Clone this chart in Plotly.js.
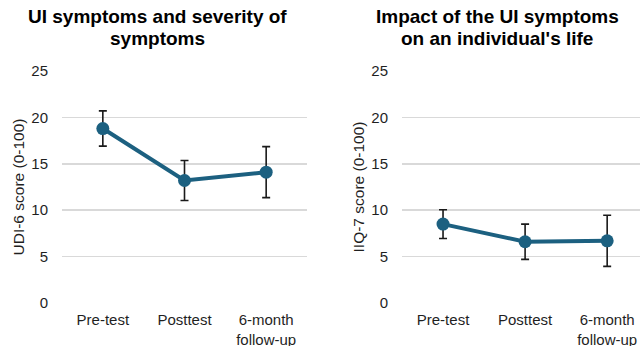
<!DOCTYPE html>
<html>
<head>
<meta charset="utf-8">
<script src="https://cdn.plot.ly/plotly-3.0.1.min.js"></script>
<style>html,body{margin:0;padding:0;background:#fff;}#chart{width:640px;height:346px;}</style>
</head>
<body>
<div id="chart"></div>
<script>
const categories = ["Pre-test", "Posttest", "6-month<br>follow-up"];
const udiMeans = [18.8, 13.2, 14.1];
const udiErrors = [1.9, 2.15, 2.75];
const iiqMeans = [8.5, 6.6, 6.7];
const iiqErrors = [1.55, 1.9, 2.75];
const yTickValues = [0, 5, 10, 15, 20, 25];
const titleLeft = ["UI symptoms and severity of", "symptoms"];
const titleRight = ["Impact of the UI symptoms", "on an individual's life"];

const lineColor = "#1c6080";
const font = "Liberation Sans, Arial, sans-serif";

function trace(y, err, xa, ya) {
  return {
    type: "scatter", mode: "lines+markers",
    x: categories, y: y, xaxis: xa, yaxis: ya,
    line: {color: lineColor, width: 4},
    marker: {color: lineColor, size: 13},
    error_y: {type: "data", array: err, visible: true, color: "#1a1a1a", thickness: 1.6, width: 4},
    hoverinfo: "x+y", showlegend: false
  };
}

const data = [
  trace(udiMeans, udiErrors, "x", "y"),
  trace(iiqMeans, iiqErrors, "x2", "y2")
];

function yaxis(anchor, titleText) {
  return {
    anchor: anchor, domain: [0, 1], range: [0, 25],
    tickvals: yTickValues, ticks: "", ticklabelstandoff: 13,
    showgrid: true, gridcolor: "#d9d9d9", gridwidth: 1.5,
    zeroline: false, showline: false,
    tickfont: {family: font, size: 15, color: "#1f1f1f"},
    title: {text: titleText, font: {family: font, size: 15.5, color: "#1f1f1f"}, standoff: 2}
  };
}
function xaxis(anchor, domain, range) {
  return {
    anchor: anchor, domain: domain, range: range, type: "category",
    ticks: "", showgrid: false, zeroline: false, showline: false,
    ticklabelstandoff: 6,
    tickfont: {family: font, size: 15, color: "#1f1f1f"}
  };
}

const titleFont = {family: font, size: 19, color: "#000"};
// plot area spans pixel rows 71 (y=1) .. 303 (y=0)
function titleAnn(text, px, py) {
  return {
    text: "<b>" + text + "</b>", xref: "paper", yref: "paper",
    x: px / 640, y: (303 - py) / 232, xanchor: "center", yanchor: "middle",
    showarrow: false, font: titleFont
  };
}
const layout = {
  width: 640, height: 346,
  margin: {l: 0, r: 0, t: 71, b: 43},
  paper_bgcolor: "#fff", plot_bgcolor: "#fff",
  xaxis: xaxis("y", [62/640, 307/640], [-0.5, 2.5]),
  yaxis: yaxis("x", "UDI-6 score (0-100)"),
  xaxis2: xaxis("y2", [402/640, 1], [-0.5, 2.4]),
  yaxis2: yaxis("x2", "IIQ-7 score (0-100)"),
  annotations: [
    titleAnn(titleLeft[0], 157, 17),
    titleAnn(titleLeft[1], 157, 38),
    titleAnn(titleRight[0], 497, 17),
    titleAnn(titleRight[1], 497, 38)
  ],
  hovermode: "closest"
};

Plotly.newPlot("chart", data, layout, {displayModeBar: false, staticPlot: true});
</script>
</body>
</html>
